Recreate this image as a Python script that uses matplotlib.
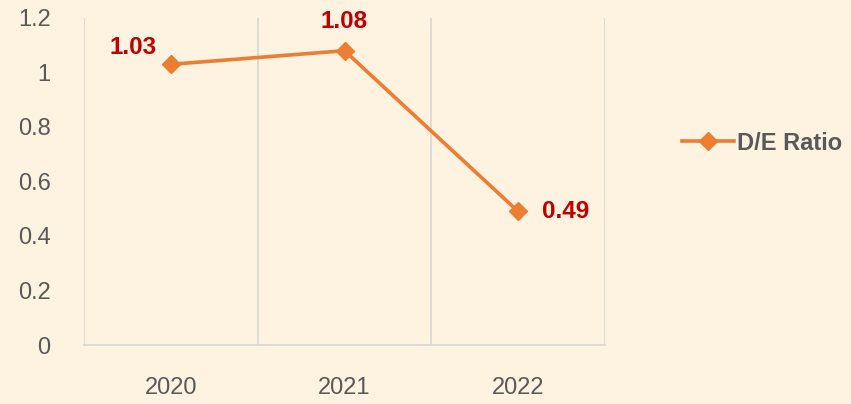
import matplotlib
matplotlib.use("Agg")
import matplotlib.pyplot as plt

plt.rcParams['font.family'] = ['Liberation Sans', 'DejaVu Sans']

years = ["2020", "2021", "2022"]
de_ratio = [1.03, 1.08, 0.49]
label_texts = ["1.03", "1.08", "0.49"]
yticks = [0, 0.2, 0.4, 0.6, 0.8, 1.0, 1.2]
ytick_labels = ["0", "0.2", "0.4", "0.6", "0.8", "1", "1.2"]

bg = "#FEF2E1"
line_col = "#ED7D31"
grid_col = "#D9D9D9"
text_col = "#595959"
label_col = "#C00000"

fig = plt.figure(figsize=(8.51, 4.04), dpi=100, facecolor=bg)
ax = fig.add_axes([84/851, 59/404, (605-84)/851, (345-18)/404])
ax.set_facecolor(bg)

x = list(range(len(years)))
line, = ax.plot(x, de_ratio, color=line_col, lw=2.6, marker='D', markersize=9,
                markerfacecolor=line_col, markeredgecolor=line_col, label="D/E Ratio",
                zorder=3, clip_on=False)

ax.set_xlim(-0.5, len(years) - 0.5)
ax.set_ylim(0, 1.2)
ax.set_yticks(yticks)
ax.set_yticklabels(ytick_labels)
ax.set_xticks(x)
ax.set_xticklabels(years)
for b in [i - 0.5 for i in range(len(years) + 1)]:
    ax.axvline(b, color=grid_col, lw=1.3, zorder=1)

for s in ['top', 'right', 'left']:
    ax.spines[s].set_visible(False)
ax.spines['bottom'].set_color(grid_col)
ax.spines['bottom'].set_linewidth(1.3)

ax.tick_params(axis='y', length=0, pad=24, labelsize=17, labelcolor=text_col)
ax.tick_params(axis='x', length=0, pad=23, labelsize=17, labelcolor=text_col)

offsets = [(-27, 12), (0, 21), (34, 0)]
for xi, v, t, off in zip(x, de_ratio, label_texts, offsets):
    ax.annotate(t, (xi, v), xytext=off, textcoords='offset points', ha='center', va='center',
                fontsize=17.5, fontweight='bold', color=label_col)

leg = fig.legend(handles=[line], loc='center left', bbox_to_anchor=(670/851, 1 - 143/404),
                 frameon=False, handlelength=2.2, handletextpad=0.15, borderpad=0,
                 prop={'size': 17, 'weight': 'bold'})
for t in leg.get_texts():
    t.set_color(text_col)

fig.savefig("out.png", dpi=100, facecolor=bg)
